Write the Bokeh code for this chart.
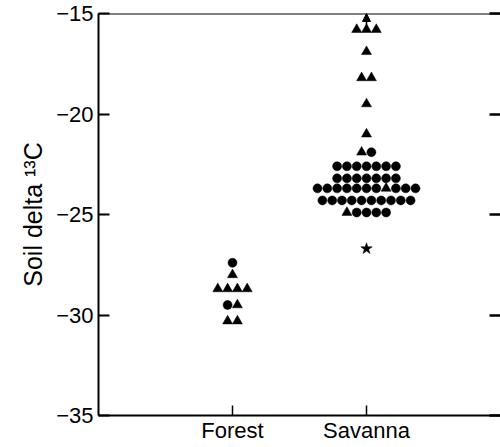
import numpy as np
from bokeh.plotting import figure
from bokeh.models import (FixedTicker, LinearAxis, Span, Arrow, NormalHead,
                          ColumnDataSource, Range1d)
from bokeh.embed import file_html
from bokeh.resources import INLINE

# ---------------- data ----------------
categories = ["Forest", "Savanna"]
category_pos = [1, 2]

forest_values = [-27.4, -28.0, -28.7, -28.7, -28.7, -28.7, -29.5, -29.5, -30.3, -30.3]
forest_symbols = ["circle", "triangle", "triangle", "triangle", "triangle", "triangle",
                  "circle", "triangle", "triangle", "triangle"]

savanna_values = ([-15.8] * 3 + [-16.9] + [-18.2] * 2 + [-19.5] + [-21.0] + [-21.9] * 2
                  + [-22.6] * 7 + [-23.2] * 7 + [-23.7] * 11 + [-24.3] * 10 + [-24.9] * 5
                  + [-26.7])
savanna_symbols = (["triangle"] * 3 + ["triangle"] + ["triangle"] * 2 + ["triangle"]
                   + ["triangle"] + ["triangle", "circle"]
                   + ["circle"] * 7 + ["circle"] * 7
                   + ["circle"] * 7 + ["triangle"] + ["circle"] * 3
                   + ["circle"] * 10 + ["triangle"] + ["circle"] * 4
                   + ["star"])

# one savanna value lies above the plotted range (shown by an arrow)
savanna_offscale = True

y_ticks = [-35, -30, -25, -20, -15]
y_tick_labels = ["\u221235", "\u221230", "\u221225", "\u221220", "\u221215"]

# ---------------- layout ----------------
X_START, X_END = 0.0, 3.0
Y_START, Y_END = -35.0, -15.0
FRAME_W_PX = 402.0
DX = 9.8 * (X_END - X_START) / FRAME_W_PX   # horizontal spacing of stacked points
SIZES = {"circle": 9, "triangle": 10, "star": 12}
FONT = "Liberation Sans"


def swarm(center, values):
    """Centered beeswarm: points with the same value are spread horizontally."""
    xs = np.zeros(len(values))
    groups = {}
    for i, v in enumerate(values):
        groups.setdefault(v, []).append(i)
    for v, idx in groups.items():
        n = len(idx)
        for k, i in enumerate(idx):
            xs[i] = center + (k - (n - 1) / 2.0) * DX
    return xs


p = figure(width=500, height=447, output_backend="svg", toolbar_location=None,
           x_range=Range1d(X_START, X_END), y_range=Range1d(Y_START, Y_END),
           min_border_left=98, min_border_right=0, min_border_top=13,
           min_border_bottom=32)
p.outline_line_color = None
p.xgrid.visible = False
p.ygrid.visible = False
p.background_fill_color = "white"

all_x, all_y, all_m, all_s = [], [], [], []
for pos, vals, syms in [(category_pos[0], forest_values, forest_symbols),
                        (category_pos[1], savanna_values, savanna_symbols)]:
    xs = swarm(pos, vals)
    all_x += list(xs)
    all_y += list(vals)
    all_m += list(syms)
    all_s += [SIZES[s] for s in syms]

src = ColumnDataSource(dict(x=all_x, y=all_y, marker=all_m, size=all_s))
p.scatter("x", "y", source=src, marker="marker", size="size",
          fill_color="black", line_color="black", line_width=0.5)

if savanna_offscale:
    p.add_layout(Arrow(x_start=category_pos[1], y_start=max(savanna_values),
                       x_end=category_pos[1], y_end=Y_END,
                       line_color="black", line_width=1.5,
                       end=NormalHead(size=8, fill_color="black", line_color="black")))

# top border line
p.add_layout(Span(location=Y_END, dimension="width", line_color="black", line_width=2))

# left axis
ya = p.yaxis[0]
ya.ticker = FixedTicker(ticks=y_ticks)
ya.major_label_overrides = {t: l for t, l in zip(y_ticks, y_tick_labels)}
ya.major_tick_in = 11
ya.major_tick_out = 0
ya.minor_tick_line_color = None
ya.axis_line_width = 2
ya.major_tick_line_width = 2
ya.major_label_text_font = FONT
ya.major_label_text_font_size = "22px"
ya.major_label_text_color = "black"
ya.major_label_standoff = 5
ya.axis_label = "Soil delta \u00b9\u00b3C"
ya.axis_label_text_font = FONT
ya.axis_label_text_font_size = "25px"
ya.axis_label_text_font_style = "normal"
ya.axis_label_text_color = "black"
ya.axis_label_standoff = 6

# bottom axis
xa = p.xaxis[0]
xa.ticker = FixedTicker(ticks=category_pos)
xa.major_label_overrides = {pos: c for pos, c in zip(category_pos, categories)}
xa.major_tick_in = 10
xa.major_tick_out = 0
xa.minor_tick_line_color = None
xa.axis_line_width = 2
xa.major_tick_line_width = 1.5
xa.major_label_text_font = FONT
xa.major_label_text_font_size = "22px"
xa.major_label_text_color = "black"
xa.major_label_standoff = 2

# right axis: inward ticks only
ra = LinearAxis(ticker=FixedTicker(ticks=y_ticks))
ra.major_label_overrides = {t: "" for t in y_ticks}
ra.major_label_standoff = 0
ra.major_tick_in = 11
ra.major_tick_out = 0
ra.minor_tick_line_color = None
ra.axis_line_color = None
ra.major_tick_line_width = 2.5
p.add_layout(ra, "right")

open("out.html", "w").write(file_html(p, INLINE))
